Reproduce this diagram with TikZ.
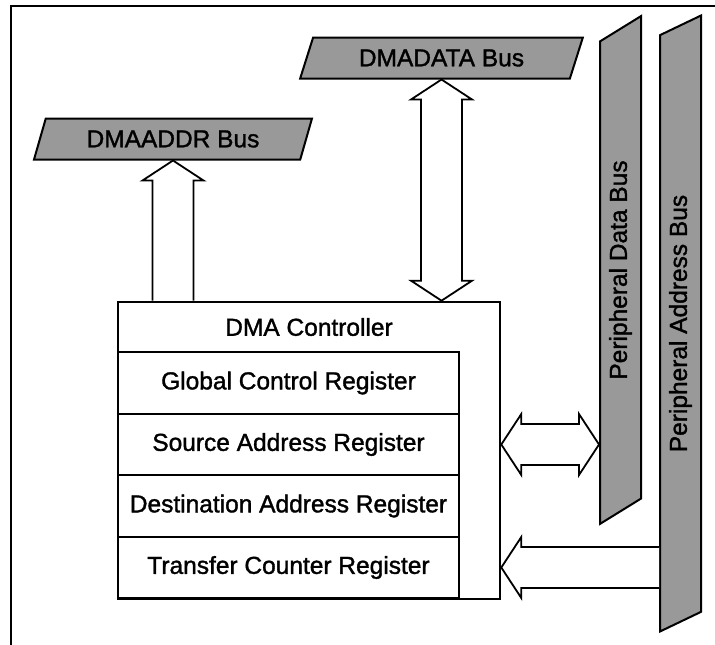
\documentclass[tikz,border=0pt]{standalone}
\usepackage{fontspec}
\setmainfont{Liberation Sans}
\newfontfamily\heavysans{Liberation Sans}[UprightFeatures={FakeBold=1.4}]
\usepackage{tikz}
\usetikzlibrary{shapes.geometric,calc,positioning}

\tikzset{
  bus/.style={trapezium, draw, line width=2pt, fill=black!40, trapezium stretches=true, minimum height=41pt, inner sep=0pt},
  reg/.style={draw, line width=1.8pt, minimum width=341pt, minimum height=61.5pt, outer sep=0pt, inner sep=0pt},
  hollow/.style={draw, line width=1.8pt, fill=white, line join=miter},
}

\newcommand{\onearrow}[2]{%
  \path ($(#2)!20pt!(#1)$) coordinate (hb);
  \draw[hollow] ($(#1)!20.5pt!90:(#2)$) -- ($(hb)!20.5pt!90:(#2)$) -- ($(hb)!30.5pt!90:(#2)$) -- (#2)
    -- ($(hb)!30.5pt!-90:(#2)$) -- ($(hb)!20.5pt!-90:(#2)$) -- ($(#1)!20.5pt!-90:(#2)$);
}
\newcommand{\twoarrow}[2]{%
  \path ($(#1)!20pt!(#2)$) coordinate (hba) ($(#2)!20pt!(#1)$) coordinate (hbb);
  \draw[hollow] (#1) -- ($(hba)!30.5pt!90:(#2)$) -- ($(hba)!20.5pt!90:(#2)$) -- ($(hbb)!20.5pt!90:(#2)$) -- ($(hbb)!30.5pt!90:(#2)$) -- (#2)
    -- ($(hbb)!30.5pt!-90:(#2)$) -- ($(hbb)!20.5pt!-90:(#2)$) -- ($(hba)!20.5pt!-90:(#2)$) -- ($(hba)!30.5pt!-90:(#2)$) -- cycle;
}

\begin{document}
\begin{tikzpicture}[x=1pt,y=-1pt,font=\heavysans\fontsize{24.5}{28}\selectfont]
      \useasboundingbox (0,0) rectangle (715,645);
      \draw[line width=2.5pt] (11,645) -- (11,6) -- (715,6);
      \node[bus, trapezium left angle=65, trapezium right angle=115, minimum width=278pt] (addrbus) at (173,139) {DMAADDR Bus};
      \node[bus, trapezium left angle=64, trapezium right angle=116, minimum width=283pt] (databus) at (441.5,58) {DMADATA Bus};
      \node[bus, rotate=90, trapezium left angle=118, trapezium right angle=62, minimum width=508pt] (pdbus) at (620.5,270) {Peripheral Data Bus};
      \node[bus, rotate=90, trapezium left angle=111, trapezium right angle=69, minimum width=617pt] (pabus) at (680.5,323.5) {Peripheral Address Bus};
      \node[draw, line width=2.6pt, minimum width=382pt, minimum height=297pt] (ctrl) at (309,450.5) {};
      \node (title) at (309,327) {DMA Controller};
      \node[reg] (gcr) at (288.5,383) {Global Control Register};
      \node[reg, below=0pt of gcr] (sar) {Source Address Register};
      \node[reg, below=0pt of sar] (dar) {Destination Address Register};
      \node[reg, below=0pt of dar] (tcr) {Transfer Counter Register};
      \coordinate (addrfoot) at (addrbus.south |- ctrl.north);
      \coordinate (datafoot) at (databus.south |- ctrl.north);
      \coordinate (srcside) at (sar -| ctrl.east);
      \coordinate (srcbus) at (sar -| pdbus.north);
      \coordinate (cntside) at (tcr -| ctrl.east);
      \coordinate (cntbus) at (tcr -| pabus.north);
      \onearrow{addrfoot}{addrbus.south}
      \twoarrow{databus.south}{datafoot}
      \twoarrow{srcside}{srcbus}
      \onearrow{cntbus}{cntside}
    \end{tikzpicture}
\end{document}
